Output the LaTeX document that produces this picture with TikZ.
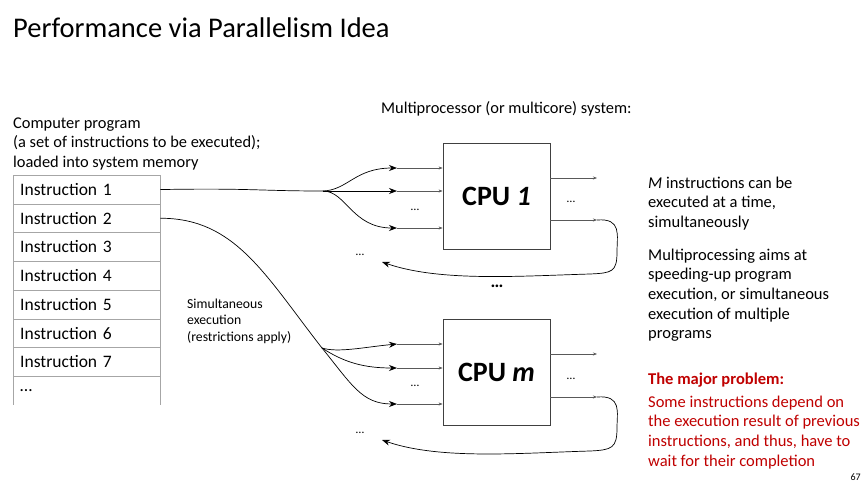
\documentclass[tikz,border=0pt]{standalone}
\usepackage{fontspec}
\setmainfont{Carlito}
\usepackage{tikz}
\usetikzlibrary{positioning, arrows.meta, calc}
\definecolor{problemred}{HTML}{C00000}
\definecolor{tablegray}{HTML}{A6A6A6}
\definecolor{boxgray}{HTML}{404040}

\begin{document}
\begin{tikzpicture}[x=1pt, y=-1pt,
    captxt/.style={anchor=base west, inner sep=0pt, align=left, font=\fontsize{16.4}{19.5}\selectfont},
    notetxt/.style={anchor=base west, inner sep=0pt, align=left, font=\fontsize{16.5}{19.7}\selectfont},
    instr/.style={draw=tablegray, anchor=north west, minimum width=147pt, minimum height=28.7pt,
          inner xsep=7pt, inner ysep=0pt, text width=133pt, align=left, font=\fontsize{17.5}{19}\selectfont},
    cpubox/.style={draw=boxgray, line width=0.8pt, minimum width=107pt, minimum height=106pt,
          font=\fontsize{28}{32}\selectfont\bfseries},
    flow/.style={-{Stealth[length=8pt, width=6pt]}, line width=0.7pt},
    feed/.style={-{Stealth[length=4pt, width=3pt]}, draw=black!65, line width=0.6pt},
    dots/.style={inner sep=0pt, font=\fontsize{12}{14}\selectfont}]

    \path[fill=white] (0,0) rectangle (868,488);

    \node[anchor=base west, inner sep=0pt, font=\fontsize{28.5}{32}\selectfont] (title) at (13,37) {Performance via Parallelism Idea};

    % program in memory (base of a multi-line node = its last line)
    \node[captxt] (proglabel) at (13,167) {Computer program\\(a set of instructions to be executed);\\loaded into system memory};
    \foreach \i in {1,...,7} {
      \node[instr] (instr\i) at (13, {175+(\i-1)*28.7}) {Instruction \i};
    }
    \node[instr, draw=none] (instrmore) at (13, 375.9) {\dots};
    \draw[tablegray] (instrmore.north west) -- (instrmore.south west)
                     (instrmore.north east) -- (instrmore.south east);

    \node[anchor=base west, inner sep=0pt, align=left, font=\fontsize{13.7}{16.5}\selectfont] (simnote) at (187,341)
      {Simultaneous\\execution\\(restrictions apply)};
    \node[captxt] (mplabel) at (381,113) {Multiprocessor (or multicore) system:};

    % processors
    \node[cpubox] (cpu1) at (496.5,196) {CPU \textit{1}};
    \node[cpubox] (cpum) at (496.5,372.5) {CPU \textit{m}};
    \node[inner sep=0pt, font=\fontsize{18}{20}\selectfont\bfseries] (cpudots) at (497,286) {\dots};

    \coordinate (sp1) at (323,191);
    \coordinate (a11) at (397,168);
    \coordinate (a12) at (397,191);
    \coordinate (a13) at (397,228);
    \coordinate (o11) at (597,178);
    \coordinate (o12) at (597,220);
    \coordinate (r1) at (382,262);

    \coordinate (sp2) at (322,348);
    \coordinate (a21) at (397,344);
    \coordinate (a22) at (397,368);
    \coordinate (a23) at (397,404);
    \coordinate (o21) at (597,354);
    \coordinate (o22) at (597,397);
    \coordinate (r2) at (382,440);

    \draw[line width=0.7pt] (instr1.east) .. controls (250,188) and (260,191) .. (sp1);
    \draw[flow] (sp1) .. controls (348,190) and (355,168) .. (a11);
    \draw[flow] (sp1) -- (a12);
    \draw[flow] (sp1) .. controls (346,191) and (352,228) .. (a13);
    \foreach \p in {a11,a12,a13} {
      \draw[feed] (\p) -- (\p -| cpu1.west);
    }
    \draw[feed] (o11 -| cpu1.east) -- (o11);
    \draw[feed] (o12 -| cpu1.east) -- (o12);
    \draw[flow] (o12) .. controls (622,218) and (617,235) .. (617,252)
                .. controls (617,272) and (612,273) .. (590,274)
                .. controls (520,276) and (440,282) .. (r1);

    \draw[line width=0.7pt] (instr2.east) .. controls (235,218) and (265,275) .. (sp2);
    \draw[flow] (sp2) .. controls (338,353) and (365,347) .. (a21);
    \draw[flow] (sp2) .. controls (345,363) and (365,368) .. (a22);
    \draw[flow] (sp2) .. controls (352,385) and (362,404) .. (a23);
    \foreach \p in {a21,a22,a23} {
      \draw[feed] (\p) -- (\p -| cpum.west);
    }
    \draw[feed] (o21 -| cpum.east) -- (o21);
    \draw[feed] (o22 -| cpum.east) -- (o22);
    \draw[flow] (o22) .. controls (622,395) and (617,412) .. (617,428)
                .. controls (617,448) and (612,450) .. (590,451)
                .. controls (520,453) and (440,460) .. (r2);

    \node[dots] (dots1in) at (415,210) {\dots};
    \node[dots] (dots1out) at (571,202) {\dots};
    \node[dots] (dots1back) at (360,255) {\dots};
    \node[dots] (dots2in) at (415,386) {\dots};
    \node[dots] (dots2out) at (571,379) {\dots};
    \node[dots] (dots2back) at (360,433) {\dots};

    % notes on the right
    \node[notetxt] (mnote) at (648,227.4) {\textit{M} instructions can be\\executed at a time,\\simultaneously};
    \node[notetxt] (aimnote) at (648,338.8) {Multiprocessing aims at\\speeding-up program\\execution, or simultaneous\\execution of multiple\\programs};
    \node[notetxt, text=problemred, font=\fontsize{16.5}{19.7}\selectfont\bfseries] (probhead) at (648,384) {The major problem:};
    \node[notetxt, text=problemred] (probnote) at (648,466.1) {Some instructions depend on\\the execution result of previous\\instructions, and thus, have to\\wait for their completion};

    \node[anchor=base east, inner sep=0pt, font=\fontsize{10}{12}\selectfont] (pagenum) at (861,480) {67};
\end{tikzpicture}
\end{document}
